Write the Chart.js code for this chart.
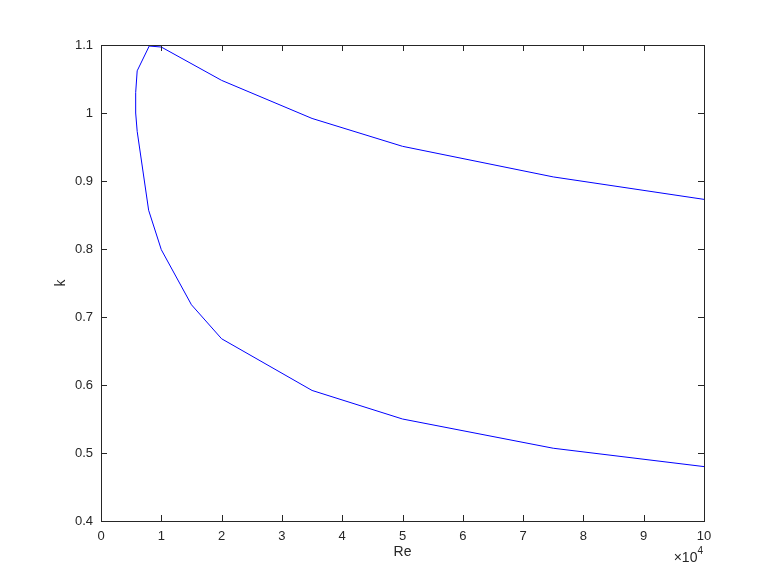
<!DOCTYPE html>
<html>
<head>
<meta charset="utf-8">
<script src="https://cdn.jsdelivr.net/npm/chart.js@4"></script>
<style>
  body { margin: 0; background: #fff; }
  canvas { display: block; }
</style>
</head>
<body>
<canvas id="kChart" width="778" height="583"></canvas>
<script>
'use strict';

// lower branch, from the nose out to the right
const lowerRe = [6000, 7900, 10000, 15000, 20000, 35000, 50000, 75000, 100000];
const lowerK = [0.973, 0.857, 0.799, 0.718, 0.668, 0.592, 0.550, 0.507, 0.480];

// the rounded nose on the left
const noseRe = [5750, 5750, 6000];
const noseK = [1.0, 1.03, 1.062];

// upper branch
const upperRe = [8000, 10000, 20000, 35000, 50000, 75000, 100000];
const upperK = [1.0985, 1.097, 1.048, 0.992, 0.951, 0.906, 0.873];

const xTicks = [0, 10000, 20000, 30000, 40000, 50000, 60000, 70000, 80000, 90000, 100000];
const yTicks = [0.4, 0.5, 0.6, 0.7, 0.8, 0.9, 1.0, 1.1];

const axisColor = '#262626';
const fontFamily = "'Liberation Sans', Arial, Helvetica, sans-serif";

// walk the curve: lower branch right to left, up the nose, then upper branch
let points = [];
for (let i = lowerRe.length - 1; i >= 0; i--) {
  points.push({ x: lowerRe[i], y: lowerK[i] });
}
for (let i = 0; i < noseRe.length; i++) {
  points.push({ x: noseRe[i], y: noseK[i] });
}
for (let i = 0; i < upperRe.length; i++) {
  points.push({ x: upperRe[i], y: upperK[i] });
}

// box, inward ticks on all four sides and the x10^4 multiplier
const matlabAxes = {
  id: 'matlabAxes',
  afterDraw(chart) {
    const { ctx, chartArea: a, scales: { x, y } } = chart;
    const len = 6;
    ctx.save();
    ctx.strokeStyle = axisColor;
    ctx.lineWidth = 1;
    ctx.beginPath();
    xTicks.forEach(v => {
      const px = Math.round(x.getPixelForValue(v)) + 0.5;
      ctx.moveTo(px, a.bottom); ctx.lineTo(px, a.bottom - len);
      ctx.moveTo(px, a.top); ctx.lineTo(px, a.top + len);
    });
    yTicks.forEach(v => {
      const py = Math.round(y.getPixelForValue(v)) + 0.5;
      ctx.moveTo(a.left, py); ctx.lineTo(a.left + len, py);
      ctx.moveTo(a.right, py); ctx.lineTo(a.right - len, py);
    });
    ctx.stroke();
    ctx.strokeRect(Math.round(a.left) + 0.5, Math.round(a.top) + 0.5,
      Math.round(a.right - a.left), Math.round(a.bottom - a.top));

    ctx.fillStyle = axisColor;
    ctx.textBaseline = 'alphabetic';
    ctx.textAlign = 'right';
    ctx.font = '10px ' + fontFamily;
    const expRight = a.right - 1;
    ctx.fillText('4', expRight, a.bottom + 33);
    const expW = ctx.measureText('4').width;
    ctx.font = '14px ' + fontFamily;
    ctx.fillText('\u00d710', expRight - expW, a.bottom + 41);
    ctx.restore();
  }
};

const ctx = document.getElementById('kChart').getContext('2d');
const kChart = new Chart(ctx, {
  type: 'scatter',
  data: {
    datasets: [{
      data: points,
      showLine: true,
      borderColor: '#0000ff',
      borderWidth: 1,
      pointRadius: 0,
      tension: 0,
      fill: false
    }]
  },
  options: {
    responsive: false,
    devicePixelRatio: 1,
    animation: false,
    events: [],
    layout: { padding: { top: 45, right: 74, bottom: 0, left: 0 } },
    plugins: {
      legend: { display: false },
      tooltip: { enabled: false }
    },
    scales: {
      x: {
        type: 'linear',
        min: 0,
        max: 100000,
        afterFit(scale) { scale.height = 62; },
        afterBuildTicks(scale) { scale.ticks = xTicks.map(v => ({ value: v })); },
        grid: { display: false, drawTicks: false },
        border: { display: false },
        ticks: {
          color: axisColor,
          font: { family: fontFamily, size: 13 },
          padding: 8,
          maxRotation: 0,
          callback: v => String(v / 10000)
        },
        title: {
          display: true,
          text: 'Re',
          color: axisColor,
          font: { family: fontFamily, size: 14 },
          padding: { bottom: 22 }
        }
      },
      y: {
        type: 'linear',
        min: 0.4,
        max: 1.1,
        afterFit(scale) { scale.width = 101; },
        afterBuildTicks(scale) { scale.ticks = yTicks.map(v => ({ value: v })); },
        grid: { display: false, drawTicks: false },
        border: { display: false },
        ticks: {
          color: axisColor,
          font: { family: fontFamily, size: 13 },
          padding: 8,
          callback: v => String(Math.round(v * 10) / 10)
        },
        title: {
          display: true,
          text: 'k',
          color: axisColor,
          font: { family: fontFamily, size: 14 },
          padding: { top: 53 }
        }
      }
    }
  },
  plugins: [matlabAxes]
});
</script>
</body>
</html>
